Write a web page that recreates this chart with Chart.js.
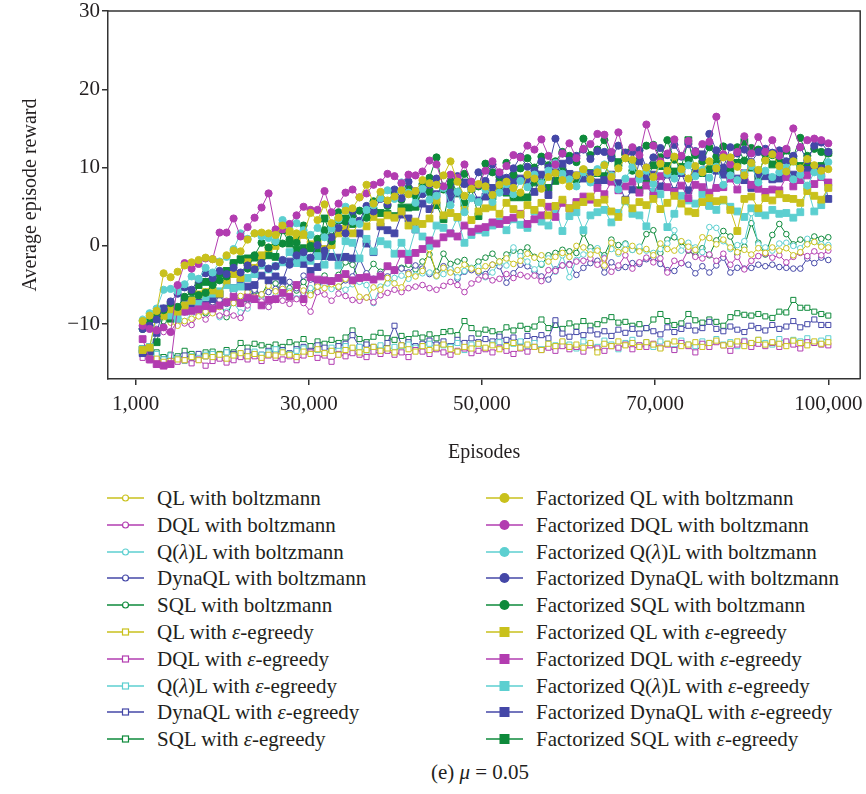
<!DOCTYPE html>
<html>
<head>
<meta charset="utf-8">
<title>Average episode reward</title>
<script src="https://cdn.jsdelivr.net/npm/chart.js@4.4.1/dist/chart.umd.min.js"></script>
<style>
  body { margin: 0; background: #fff; font-family: "Liberation Serif", "Times New Roman", serif; color: #231f20; }
  #wrap { position: relative; width: 866px; height: 794px; overflow: hidden; }
  #chartBox { position: absolute; left: 0; top: 0; width: 866px; height: 470px; }
  .leg-row { position: absolute; height: 26px; line-height: 26px; font-size: 21px; white-space: nowrap; }
  .leg-row svg { position: absolute; left: 0; top: 7px; }
  .leg-row span { position: absolute; top: 0; }
  #caption { position: absolute; top: 760px; left: 380px; width: 200px; text-align: center; font-size: 21px; }
</style>
</head>
<body>
<div id="wrap">
  <div id="chartBox"><canvas id="rewardChart" width="866" height="470"></canvas></div>
  <div id="legend"></div>
  <div id="caption">(e) <i>μ</i> = 0.05</div>
</div>
<script>
// axis ticks
const xTickPos = [0, 24.75, 49.5, 74.25, 99];
const xTickLabels = ['1,000', '30,000', '50,000', '70,000', '100,000'];
const yTicks = [-10, 0, 10, 20, 30];

const seriesNames = [
  'QL with boltzmann', 'DQL with boltzmann', 'Q(λ)L with boltzmann', 'DynaQL with boltzmann', 'SQL with boltzmann',
  'QL with ε-egreedy', 'DQL with ε-egreedy', 'Q(λ)L with ε-egreedy', 'DynaQL with ε-egreedy', 'SQL with ε-egreedy',
  'Factorized QL with boltzmann', 'Factorized DQL with boltzmann', 'Factorized Q(λ)L with boltzmann',
  'Factorized DynaQL with boltzmann', 'Factorized SQL with boltzmann',
  'Factorized QL with ε-egreedy', 'Factorized DQL with ε-egreedy', 'Factorized Q(λ)L with ε-egreedy',
  'Factorized DynaQL with ε-egreedy', 'Factorized SQL with ε-egreedy'
];

// --- plain methods, boltzmann (hollow circles) ---
const qlBoltz = [
  -9.8, -9.4, -8.6, -9.1, -9.8, -10.2, -9.6, -9.3, -9.0, -8.4,
  -8.6, -7.8, -7.0, -7.3, -6.4, -5.9, -6.6, -6.2, -5.1, -5.8,
  -5.5, -6.0, -4.9, -5.7, -6.3, -5.2, -5.4, -4.9, -5.2, -4.2,
  -4.5, -6.5, -6.6, -5.3, -5.6, -4.1, -4.8, -5.3, -3.6, -3.9,
  -3.2, -0.4, -3.8, -2.8, -3.4, -3.1, -2.4, -2.9, -3.2, -2.6,
  -2.4, -2.0, -1.6, -2.3, -1.9, -1.0, -1.5, -1.2, -2.0, -1.4,
  -0.9, -1.4, 0.0, -0.2, -1.1, -0.6, -2.5, 0.4, -0.8, -0.5,
  0.0, -0.7, -0.4, -1.2, 0.3, -0.4, -0.6, 0.6, -0.1, -0.5,
  1.1, 1.0, 0.2, 0.8, -0.2, -0.8, -0.5, -1.1, -0.3, -0.9,
  -0.2, -0.6, -0.3, -1.2, -0.8, 0.2, 0.5, -0.1, -0.2
];
const dqlBoltz = [
  -10.6, -10.4, -10.6, -11.0, -11.0, -9.5, -9.9, -10.1, -8.8, -9.4,
  -8.5, -8.9, -8.6, -8.9, -9.2, -7.6, -6.5, -7.1, -7.8, -6.9,
  -7.0, -7.4, -6.8, -7.3, -8.4, -5.9, -6.2, -7.0, -6.1, -6.4,
  -6.9, -7.0, -6.6, -7.2, -6.3, -6.0, -5.6, -5.9, -5.4, -5.2,
  -5.0, -5.4, -5.6, -5.1, -4.6, -5.0, -5.9, -4.8, -4.3, -3.9,
  -4.4, -4.2, -3.6, -4.1, -3.7, -3.9, -3.8, -4.5, -3.1, -3.2,
  -2.5, -2.4, -2.0, -1.9, -1.6, -2.4, -1.6, -3.3, -2.5, -1.2,
  -2.9, -2.1, -1.5, -2.1, -1.6, -3.4, -1.9, -2.2, -0.5, -1.4,
  -1.6, -1.1, -1.9, -1.0, -2.4, -1.4, -3.0, -1.9, -1.3, -1.0,
  -1.5, -1.2, -2.1, -1.4, -0.9, -1.3, -0.7, -1.2, -0.6
];
const qlamBoltz = [
  -9.3, -8.9, -8.2, -9.0, -8.4, -8.8, -9.6, -8.7, -8.0, -7.9,
  -8.3, -9.1, -8.4, -7.3, -8.5, -8.0, -6.6, -6.9, -7.8, -6.4,
  -6.2, -5.8, -6.7, -6.0, -5.4, -5.8, -4.9, -5.5, -5.2, -5.6,
  -4.9, -4.6, -5.0, -7.3, -5.2, -4.8, -4.1, -3.8, -4.2, -3.7,
  -3.5, -3.4, -3.9, -3.6, -3.0, -4.0, -3.2, -2.8, -2.7, -4.0,
  -3.4, -2.1, -2.5, -0.2, -1.3, -2.0, -3.0, -2.3, -1.6, -3.3,
  -1.2, -4.0, -1.8, -1.1, -0.7, -0.3, -1.5, -0.4, -1.0, 0.2,
  -0.5, -0.1, -0.6, -0.9, -0.4, 0.3, 2.0, -0.6, 0.4, -0.2,
  -0.8, 2.4, 2.3, 0.6, -0.4, 0.1, 0.6, 4.2, 0.2, -0.2,
  -0.6, 0.3, 0.4, 0.0, -0.3, 0.9, 0.5, 0.2, 0.1
];
const dynaBoltz = [
  -9.7, -9.2, -8.9, -8.2, -8.7, -8.0, -8.5, -7.6, -7.9, -7.5,
  -7.2, -6.9, -7.4, -6.0, -6.6, -6.8, -5.6, -6.2, -5.9, -5.5,
  -5.2, -4.6, -5.4, -3.8, -4.3, -4.9, -4.5, -4.8, -5.3, -4.4,
  -3.9, -1.6, -3.5, -4.2, -3.6, -3.9, -3.2, -2.9, -3.4, -2.5,
  -2.9, -3.6, -3.8, -2.6, -3.0, -4.2, -3.3, -3.1, -3.4, -3.6,
  -2.4, -2.6, -4.7, -3.5, -2.4, -2.6, -3.2, -3.9, -4.3, -3.0,
  -2.5, -2.3, -3.7, -2.8, -2.2, -1.9, -3.4, -2.1, -2.8, -2.7,
  -2.2, -2.3, -1.7, -1.5, -2.3, -3.1, -3.2, -2.2, -2.4, -3.5,
  -2.6, -3.4, -2.5, -1.5, -3.4, -2.8, -2.9, -2.8, -2.4, -2.6,
  -2.4, -2.7, -2.8, -2.9, -2.9, -1.6, -2.2, -1.5, -1.8
];
const sqlBoltz = [
  -9.5, -9.8, -9.0, -9.6, -8.7, -9.1, -8.2, -8.5, -7.9, -8.6,
  -7.6, -7.1, -9.1, -6.8, -7.4, -6.9, -5.8, -6.3, -4.6, -4.8,
  -5.9, -5.4, -5.7, -4.6, -6.0, -4.9, -3.8, -4.4, -3.7, -2.1,
  -2.4, -4.5, -3.6, -2.3, -3.3, -2.6, -3.0, -2.8, -2.4, -3.0,
  -2.0, -1.1, -3.3, -1.0, -2.3, -2.0, -1.8, -2.9, -2.0, -1.5,
  -1.0, -2.0, -1.1, -0.6, -0.8, -0.2, -1.4, -2.4, -1.2, -0.9,
  -0.5, -0.7, -0.9, 1.6, -0.2, -0.4, -1.2, 0.8, 0.1, 0.3,
  -0.5, -0.5, 1.5, 2.0, -0.9, 0.8, 1.1, 0.5, -0.6, -1.2,
  -0.3, -1.2, 0.7, 1.9, 1.2, -1.0, -0.1, 2.9, 0.4, -1.1,
  1.4, 2.8, 1.5, 0.2, 0.8, 0.7, 1.2, 0.9, 1.1
];

// --- plain methods, ε-greedy (hollow squares) ---
const qlGreedy = [
  -13.6, -14.3, -14.4, -14.8, -14.7, -14.5, -14.6, -14.2, -14.6, -14.1,
  -14.2, -13.9, -14.4, -14.0, -13.7, -14.1, -13.8, -14.3, -13.9, -14.0,
  -13.6, -13.9, -14.2, -13.5, -13.8, -13.2, -13.7, -13.4, -13.9, -13.3,
  -13.0, -13.6, -13.3, -12.9, -13.4, -13.1, -13.6, -12.7, -13.2, -13.5,
  -12.8, -13.3, -13.0, -12.6, -13.2, -13.5, -12.9, -13.1, -12.5, -13.0,
  -12.7, -13.2, -12.8, -12.4, -13.0, -12.6, -12.9, -13.3, -12.5, -12.8,
  -12.2, -12.9, -12.6, -13.0, -12.4, -13.6, -12.5, -12.8, -12.2, -12.7,
  -12.4, -12.9, -12.3, -12.6, -13.1, -12.5, -12.2, -12.8, -12.6, -12.3,
  -12.9, -12.4, -12.1, -12.7, -12.5, -12.2, -12.8, -12.4, -12.0, -12.6,
  -12.3, -12.5, -12.8, -12.1, -12.4, -12.7, -12.2, -12.5, -12.3
];
const dqlGreedy = [
  -14.3, -14.6, -14.5, -14.9, -15.1, -14.8, -14.6, -15.0, -14.5, -15.3,
  -14.7, -14.4, -14.9, -14.6, -14.2, -14.5, -14.1, -14.7, -14.0, -14.3,
  -14.5, -14.1, -14.6, -14.0, -13.6, -14.3, -14.0, -14.8, -13.8, -14.1,
  -13.7, -13.9, -14.2, -13.5, -13.8, -13.4, -13.9, -13.6, -14.2, -13.3,
  -13.5, -13.8, -13.2, -13.6, -13.9, -13.4, -13.1, -13.7, -13.4, -13.2,
  -13.6, -13.0, -13.4, -13.8, -13.1, -13.5, -12.9, -13.3, -13.0, -13.4,
  -12.8, -13.2, -12.9, -13.5, -12.7, -13.1, -13.4, -12.8, -13.0, -12.6,
  -13.2, -12.7, -12.9, -12.5, -13.0, -12.6, -13.3, -12.4, -12.8, -13.6,
  -12.5, -12.9, -12.3, -12.7, -13.4, -12.6, -12.2, -12.9, -12.5, -12.8,
  -12.4, -12.9, -12.2, -12.6, -13.1, -12.3, -12.4, -12.6, -12.7
];
const qlamGreedy = [
  -13.9, -14.2, -13.8, -14.5, -14.0, -14.4, -14.7, -14.1, -14.3, -13.9,
  -13.8, -14.2, -13.6, -14.0, -13.7, -14.3, -13.5, -13.9, -13.6, -13.2,
  -13.5, -13.8, -13.4, -13.1, -13.6, -13.3, -13.9, -13.0, -13.4, -12.8,
  -13.2, -12.9, -13.5, -13.1, -12.7, -13.3, -12.9, -13.4, -12.6, -13.0,
  -12.8, -12.5, -13.1, -12.7, -12.9, -12.4, -13.3, -12.6, -12.8, -13.1,
  -12.6, -12.3, -12.9, -12.5, -12.2, -12.8, -12.4, -13.2, -12.5, -12.7,
  -12.3, -12.6, -13.1, -12.2, -12.5, -12.9, -12.1, -12.6, -13.2, -12.4,
  -12.0, -12.7, -12.3, -12.9, -12.2, -12.5, -13.2, -12.1, -12.6, -12.8,
  -12.2, -12.4, -11.9, -12.6, -12.3, -12.8, -12.1, -12.5, -12.0, -12.4,
  -12.6, -11.9, -12.3, -12.0, -12.2, -11.8, -12.4, -12.1, -11.8
];
const dynaGreedy = [
  -13.8, -14.3, -14.1, -14.5, -14.2, -14.4, -14.0, -14.3, -13.8, -14.1,
  -13.9, -14.2, -13.6, -13.8, -14.0, -13.5, -13.7, -13.9, -13.4, -13.6,
  -13.3, -13.7, -13.2, -12.9, -13.4, -12.7, -13.0, -13.3, -12.8, -12.5,
  -11.4, -12.9, -12.6, -12.9, -13.1, -12.4, -10.2, -12.7, -12.3, -12.8,
  -12.5, -12.1, -12.6, -12.2, -12.8, -12.0, -12.4, -11.8, -12.3, -11.9,
  -12.2, -11.6, -12.0, -11.7, -12.3, -11.5, -11.9, -11.4, -11.8, -9.5,
  -11.2, -11.6, -11.0, -11.4, -10.8, -11.3, -10.9, -11.5, -10.7, -11.1,
  -10.6, -11.2, -10.5, -10.9, -11.3, -10.4, -11.0, -10.6, -10.2, -10.8,
  -10.5, -9.7, -10.6, -10.9, -10.3, -10.7, -11.0, -10.2, -10.5, -10.8,
  -10.1, -10.6, -10.3, -9.6, -10.4, -10.0, -9.4, -10.1, -10.1
];
const sqlGreedy = [
  -13.7, -14.0, -13.6, -14.2, -13.9, -14.1, -13.4, -13.8, -14.0, -13.6,
  -13.5, -13.8, -13.3, -13.6, -12.4, -13.0, -12.5, -12.7, -12.9, -12.6,
  -12.9, -12.3, -12.6, -11.9, -12.8, -12.2, -12.5, -12.0, -12.4, -11.7,
  -10.8, -11.9, -12.3, -11.6, -11.1, -11.8, -12.0, -11.5, -11.9, -11.2,
  -11.7, -11.3, -11.8, -11.0, -10.9, -11.4, -9.6, -10.5, -11.2, -10.7,
  -10.9, -11.3, -10.4, -10.8, -10.2, -10.6, -10.3, -9.4, -10.5, -10.1,
  -10.6, -9.9, -10.3, -9.6, -10.2, -10.0, -9.5, -9.1, -9.8, -9.7,
  -10.2, -10.0, -10.5, -9.4, -8.7, -9.6, -10.1, -9.9, -8.7, -9.5,
  -9.8, -9.4, -9.7, -10.2, -9.1, -8.6, -8.8, -8.9, -8.7, -9.0,
  -9.2, -8.4, -8.5, -6.9, -7.9, -7.9, -8.4, -8.7, -8.9
];

// --- factorized, boltzmann (filled circles) ---
const fQlBoltz = [
  -9.6, -8.9, -8.3, -3.5, -4.0, -3.3, -2.5, -2.1, -1.8, -1.5,
  -1.7, -2.1, -1.2, -0.6, -0.7, 0.8, 1.6, 1.7, 1.6, 1.4,
  2.6, 1.9, 1.6, 1.5, 4.2, 3.3, 5.3, 2.9, 3.6, 4.5,
  4.8, 6.2, 7.8, 5.4, 6.9, 5.8, 6.3, 7.1, 6.6, 7.0,
  8.4, 8.0, 7.8, 9.0, 10.8, 8.2, 6.4, 7.3, 7.9, 7.6,
  6.5, 7.8, 8.2, 7.4, 6.8, 9.1, 8.6, 7.3, 8.8, 9.3,
  8.4, 7.6, 9.0, 9.8, 8.5, 9.4, 10.3, 8.8, 9.9, 11.2,
  11.0, 9.2, 10.0, 8.8, 10.5, 9.6, 11.4, 9.8, 8.6, 10.2,
  9.4, 10.8, 9.9, 11.3, 11.3, 10.1, 9.0, 10.6, 9.7, 10.9,
  11.7, 10.2, 9.5, 10.8, 9.9, 11.1, 10.3, 9.6, 9.8
];
const fDqlBoltz = [
  -10.2, -10.6, -10.8, -10.4, -11.0, -5.0, -2.2, -2.9, -2.3, -1.6,
  -1.7, 1.7, 1.7, 3.5, 1.2, 2.4, 3.6, 4.9, 6.7, 2.1,
  2.1, 2.8, 3.9, 5.0, 4.6, 4.6, 7.0, 4.3, 5.4, 6.8,
  7.2, 6.2, 6.7, 7.8, 8.1, 9.2, 8.9, 8.0, 9.1, 9.0,
  9.5, 10.9, 10.4, 7.6, 9.1, 8.7, 10.4, 8.2, 7.8, 9.6,
  10.8, 9.4, 10.2, 11.6, 11.3, 12.8, 12.3, 13.6, 11.5, 10.4,
  11.8, 13.1, 11.2, 12.4, 13.0, 14.3, 14.2, 12.0, 14.5, 11.2,
  12.6, 11.6, 15.5, 12.8, 10.8, 11.8, 13.6, 11.5, 13.4, 12.0,
  13.0, 13.3, 16.5, 11.7, 10.4, 12.0, 14.0, 11.8, 13.9, 12.0,
  13.5, 11.5, 12.4, 15.0, 12.6, 13.5, 13.7, 13.5, 13.1
];
const fQlamBoltz = [
  -9.5, -8.6, -8.0, -5.6, -5.5, -5.8, -4.9, -3.9, -4.2, -2.8,
  -3.4, -2.0, -1.4, -0.4, 1.6, 0.9, 1.6, 1.2, 1.0, 0.6,
  3.3, 2.6, 2.9, 2.0, 1.4, 2.3, 1.1, 2.2, 3.4, 5.0,
  3.1, 2.8, 4.6, 5.2, 6.1, 7.1, 6.0, 8.1, 6.8, 5.5,
  7.3, 5.9, 6.4, 7.4, 5.2, 6.9, 4.3, 6.1, 5.6, 7.2,
  5.6, 6.8, 7.9, 6.6, 8.3, 7.5, 9.1, 8.0, 9.6, 10.6,
  9.2, 8.5, 7.6, 9.4, 8.1, 9.8, 10.4, 9.0, 7.2, 8.6,
  10.1, 8.5, 9.6, 7.9, 10.6, 9.2, 8.6, 9.5, 10.3, 8.9,
  9.7, 8.7, 10.1, 7.8, 9.0, 8.4, 9.3, 10.2, 8.1, 9.6,
  8.8, 9.4, 10.0, 8.5, 9.1, 7.7, 9.4, 8.9, 10.7
];
const fDynaBoltz = [
  -10.6, -10.2, -9.4, -8.0, -7.1, -6.1, -5.3, -5.6, -4.3, -3.5,
  -4.1, -3.2, -3.6, -2.8, -3.4, -2.5, -3.0, -2.2, -2.9, -2.6,
  -1.8, -2.4, -1.2, -0.8, -1.5, 0.1, -0.6, 1.1, 2.3, 1.6,
  4.5, 3.2, 5.1, 4.4, 6.0, 5.3, 7.2, 6.1, 8.2, 7.0,
  6.6, 7.8, 8.6, 7.5, 6.8, 8.9, 7.9, 7.6, 9.4, 8.3,
  10.4, 9.1, 8.7, 9.9, 11.4, 10.1, 9.6, 10.8, 10.0, 13.7,
  11.8, 10.9, 11.5, 12.3, 11.1, 12.1, 12.0, 11.2, 12.8, 11.9,
  12.0, 12.2, 10.0, 11.3, 12.5, 11.6, 12.9, 11.4, 13.0, 12.1,
  11.3, 14.3, 12.2, 10.0, 12.6, 11.8, 12.3, 10.7, 12.0, 12.4,
  11.9, 12.2, 10.8, 11.5, 12.6, 10.9, 12.8, 13.2, 12.0
];
const fSqlBoltz = [
  -10.6, -9.6, -9.0, -8.2, -7.3, -7.8, -6.5, -5.9, -6.3, -6.0,
  -5.0, -4.4, -3.9, -2.2, -1.8, -2.9, -1.2, 0.4, -0.2, 0.5,
  0.3, 0.8, 0.4, 2.6, 0.0, 0.9, 2.0, 0.6, 4.3, 3.1,
  3.9, 4.5, 3.6, 5.7, 6.2, 5.1, 6.8, 5.9, 7.4, 6.3,
  7.9, 8.7, 11.3, 7.2, 8.3, 6.9, 9.2, 8.1, 7.6, 10.5,
  9.4, 8.8, 10.6, 9.1, 9.9, 11.2, 10.0, 11.4, 10.3, 10.8,
  12.0, 11.5, 10.7, 13.7, 11.6, 12.3, 13.5, 11.4, 10.2, 11.7,
  9.6, 12.2, 12.8, 12.9, 11.3, 13.5, 11.0, 9.8, 11.0, 11.6,
  10.8, 12.6, 11.4, 12.7, 10.6, 12.6, 10.9, 12.5, 12.3, 11.0,
  11.6, 10.8, 12.2, 11.4, 13.8, 11.5, 12.4, 12.0, 11.8
];

// --- factorized, ε-greedy (filled squares) ---
const fQlGreedy = [
  -13.3, -13.0, -8.6, -8.9, -8.1, -8.4, -7.6, -7.0, -6.2, -5.9,
  -5.7, -6.1, -4.4, -3.6, -4.1, -2.1, -2.8, -1.2, -0.3, 0.0,
  2.6, 1.8, 0.9, 1.4, 0.2, 0.6, -0.4, 0.1, 1.6, 2.2,
  1.6, 3.1, 2.5, 3.7, 3.0, 3.9, 3.6, 4.4, 2.6, 3.1,
  2.8, 3.5, 5.8, 3.9, 4.2, 3.7, 4.6, 3.3, 4.4, 4.8,
  5.0, 4.1, 5.5, 4.7, 4.0, 5.2, 4.6, 5.5, 3.9, 5.1,
  5.9, 4.8, 5.2, 5.6, 6.3, 5.5, 5.9, 4.4, 3.7, 5.8,
  4.8, 5.6, 5.2, 6.0, 4.7, 5.5, 6.4, 5.4, 4.4, 4.2,
  5.6, 6.1, 5.7, 5.9, 4.6, 1.9, 6.0, 6.3, 4.8, 6.1,
  5.8, 6.6, 6.1, 6.0, 5.5, 7.0, 6.4, 5.9, 7.4
];
const fDqlGreedy = [
  -11.9, -14.5, -15.1, -15.3, -15.1, -7.9, -8.4, -8.3, -8.1, -7.7,
  -8.0, -7.6, -7.2, -6.5, -7.3, -6.6, -6.8, -7.6, -6.9, -6.8,
  -6.0, -6.5, -5.0, -6.8, -4.0, -4.3, -4.4, -4.5, -4.1, -3.6,
  -4.4, -4.1, -4.0, -4.3, -3.9, -2.6, -3.1, -1.0, -1.8, -0.9,
  -0.4, 0.7, 0.3, 1.1, 1.6, 1.2, 2.6, 1.8, 2.2, 2.4,
  3.0, 2.8, 3.3, 3.6, 4.1, 2.8, 3.4, 3.9, 5.0, 3.7,
  5.5, 4.8, 5.6, 6.3, 5.9, 7.4, 6.6, 8.2, 7.1, 7.6,
  8.2, 6.8, 7.7, 6.4, 8.9, 7.5, 6.9, 7.7, 6.1, 7.8,
  7.5, 6.8, 7.4, 7.5, 8.6, 7.2, 9.3, 7.8, 7.3, 6.9,
  7.2, 7.1, 8.8, 7.6, 8.4, 9.0, 7.9, 8.8, 8.1
];
const fQlamGreedy = [
  -13.2, -12.9, -9.2, -8.7, -8.9, -9.3, -7.6, -7.0, -7.4, -6.5,
  -6.1, -5.8, -5.0, -5.4, -5.2, -4.1, -3.6, -2.5, -3.0, -2.6,
  -2.1, -0.8, -2.2, -1.5, -1.9, -1.3, -2.4, 0.2, -2.5, 0.6,
  0.4, -1.6, 0.9, -0.7, 0.6, 0.2, -1.0, 0.4, -1.0, 2.1,
  1.2, 0.0, 2.6, 2.3, 1.6, 3.6, 0.4, 1.4, 2.0, 1.7,
  2.6, 3.1, 2.0, 3.4, 2.7, 2.3, 4.4, 3.1, 2.6, 4.7,
  1.9, 3.8, 4.3, 2.0, 3.9, 4.3, 4.6, 3.0, 4.2, 5.7,
  4.1, 3.9, 2.5, 6.9, 6.6, 2.4, 4.1, 6.4, 5.8, 5.4,
  6.6, 5.1, 4.6, 5.8, 5.0, 4.4, 3.7, 4.8, 4.2, 3.9,
  4.6, 4.1, 4.2, 3.6, 4.3, 7.5, 4.4, 5.2, 7.5
];
const fDynaGreedy = [
  -13.7, -13.5, -11.1, -8.0, -8.2, -7.9, -6.9, -7.6, -7.2, -7.5,
  -6.8, -6.2, -4.4, -5.4, -4.6, -5.2, -5.0, -3.8, -4.4, -3.9,
  -4.4, -2.0, -2.0, -2.3, -3.2, -2.7, -1.3, -1.4, -1.5, -1.4,
  -1.6, 1.6, 0.3, -0.8, 2.5, 2.0, 1.6, 4.0, 3.5, 2.1,
  5.4, 4.7, 6.6, 7.4, 5.9, 6.8, 8.1, 7.6, 5.8, 6.3,
  7.4, 8.1, 7.0, 8.3, 8.6, 8.4, 6.9, 9.1, 6.5, 9.4,
  10.5, 9.2, 9.0, 8.6, 9.2, 8.1, 8.4, 9.1, 8.0, 5.9,
  7.2, 10.8, 8.9, 9.1, 7.6, 9.1, 7.0, 9.3, 7.1, 9.4,
  11.7, 5.2, 9.6, 9.1, 8.9, 8.6, 8.4, 7.4, 9.2, 8.9,
  8.5, 8.6, 9.5, 9.1, 8.8, 9.7, 9.8, 9.9, 6.0
];
const fSqlGreedy = [
  -13.2, -13.3, -12.3, -8.7, -9.3, -8.0, -7.1, -6.9, -5.0, -4.6,
  -4.6, -3.5, -3.2, -2.2, -1.7, -1.6, -1.5, -1.4, -1.2, -1.4,
  2.0, 0.3, -0.5, -0.3, -0.3, -0.7, 3.5, 1.1, 3.3, 3.5,
  2.8, 3.1, 3.7, 4.5, 4.2, 4.1, 3.8, 4.9, 4.9, 5.0,
  7.0, 6.9, 5.2, 3.4, 7.5, 6.7, 5.4, 7.3, 3.8, 7.7,
  6.3, 7.0, 6.8, 6.2, 6.2, 6.2, 8.1, 8.1, 7.4, 8.3,
  9.6, 8.6, 8.5, 9.6, 9.3, 9.3, 8.9, 11.8, 10.7, 11.9,
  12.3, 7.1, 8.4, 10.3, 10.2, 10.2, 9.5, 10.1, 13.5, 9.4,
  9.3, 9.8, 10.5, 9.5, 9.6, 10.6, 13.3, 10.0, 8.8, 11.9,
  10.4, 10.6, 12.2, 10.8, 10.2, 10.2, 9.6, 10.2, 11.9
];

const seriesValues = [
  qlBoltz, dqlBoltz, qlamBoltz, dynaBoltz, sqlBoltz,
  qlGreedy, dqlGreedy, qlamGreedy, dynaGreedy, sqlGreedy,
  fQlBoltz, fDqlBoltz, fQlamBoltz, fDynaBoltz, fSqlBoltz,
  fQlGreedy, fDqlGreedy, fQlamGreedy, fDynaGreedy, fSqlGreedy
];

// styling
const palette = ['#c9c11c', '#b23cb0', '#5ccfd0', '#4447a7', '#0e8a3b'];
const textColor = '#231f20';
const axisColor = '#333333';
const tickFont = { family: '"Liberation Serif", serif', size: 21 };
const titleFont = { family: '"Liberation Serif", serif', size: 20 };

function styleFor(i) {
  const color = palette[i % 5];
  const factorized = i >= 10;
  const square = Math.floor(i / 5) % 2 === 1;
  return {
    color: color,
    filled: factorized,
    shape: square ? 'rect' : 'circle',
    radius: factorized ? (square ? 4.8 : 3.6) : (square ? 3.6 : 2.8)
  };
}

const datasets = seriesValues.map((vals, i) => {
  const s = styleFor(i);
  return {
    label: seriesNames[i],
    data: vals.map((v, k) => ({ x: k + 1, y: v })),
    borderColor: s.color,
    borderWidth: 1,
    pointStyle: s.shape,
    pointRadius: s.radius,
    pointBorderWidth: 1,
    pointBorderColor: s.color,
    pointBackgroundColor: s.filled ? s.color : '#ffffff',
    tension: 0,
    order: s.filled ? 0 : 1
  };
});

// top and right edges of the plot box
const framePlugin = {
  id: 'frame',
  afterDraw(chart) {
    const { ctx, chartArea: a } = chart;
    ctx.save();
    ctx.strokeStyle = axisColor;
    ctx.lineWidth = 1.5;
    ctx.beginPath();
    ctx.moveTo(a.left, a.top);
    ctx.lineTo(a.right, a.top);
    ctx.lineTo(a.right, a.bottom);
    ctx.stroke();
    ctx.restore();
  }
};

new Chart(document.getElementById('rewardChart'), {
  type: 'line',
  data: { datasets: datasets },
  plugins: [framePlugin],
  options: {
    responsive: false,
    animation: false,
    layout: { padding: { top: 11, right: 4, left: 0, bottom: 0 } },
    plugins: { legend: { display: false }, tooltip: { enabled: false } },
    scales: {
      x: {
        type: 'linear',
        min: -3.95,
        max: 103.56,
        afterBuildTicks: s => { s.ticks = xTickPos.map(v => ({ value: v })); },
        afterFit: s => { s.height = 91; s.paddingLeft = 0; s.paddingRight = 0; },
        ticks: {
          autoSkip: false,
          maxRotation: 0,
          padding: 7,
          color: textColor,
          font: tickFont,
          callback: (v, i) => xTickLabels[i]
        },
        grid: { drawOnChartArea: false, drawTicks: true, tickLength: 6, color: axisColor, lineWidth: 1.5 },
        border: { color: axisColor, width: 1.5 },
        title: { display: true, text: 'Episodes', color: textColor, font: titleFont, padding: { top: 0, bottom: 5 } }
      },
      y: {
        min: -17,
        max: 30,
        afterBuildTicks: s => { s.ticks = yTicks.map(v => ({ value: v })); },
        afterFit: s => { s.width = 108; s.paddingTop = 0; s.paddingBottom = 0; },
        ticks: {
          padding: 2,
          color: textColor,
          font: tickFont,
          callback: v => (v < 0 ? '\u2212' + Math.abs(v) : String(v))
        },
        grid: { drawOnChartArea: false, drawTicks: true, tickLength: 6, color: axisColor, lineWidth: 1.5 },
        border: { color: axisColor, width: 1.5 },
        title: { display: true, text: 'Average episode reward', color: textColor, font: titleFont, padding: { top: 19, bottom: 0 } }
      }
    }
  }
});

// legend in two columns below the chart
function markerSvg(s) {
  const w = 37, h = 12, cx = 18.5, cy = 6;
  let mark;
  if (s.filled) {
    mark = s.shape === 'circle'
      ? `<circle cx="${cx}" cy="${cy}" r="5" fill="${s.color}"/>`
      : `<rect x="${cx - 5}" y="${cy - 5}" width="10" height="10" fill="${s.color}"/>`;
  } else {
    mark = s.shape === 'circle'
      ? `<circle cx="${cx}" cy="${cy}" r="3" fill="#fff" stroke="${s.color}" stroke-width="1.2"/>`
      : `<rect x="${cx - 3}" y="${cy - 3}" width="6" height="6" fill="#fff" stroke="${s.color}" stroke-width="1.2"/>`;
  }
  return `<svg width="${w}" height="${h}"><line x1="0" y1="${cy}" x2="${w}" y2="${cy}" stroke="${s.color}" stroke-width="1.5"/>${mark}</svg>`;
}

const legendBox = document.getElementById('legend');
seriesNames.forEach((name, i) => {
  const s = styleFor(i);
  const col = i < 10 ? 0 : 1;
  const row = i % 10;
  const div = document.createElement('div');
  div.className = 'leg-row';
  div.style.left = (col === 0 ? 107 : 486) + 'px';
  div.style.top = (485 + row * 26.8) + 'px';
  const html = name.replace(/([λε])/g, '<i>$1</i>');
  div.innerHTML = markerSvg(s) + `<span style="left:50px">${html}</span>`;
  legendBox.appendChild(div);
});
</script>
</body>
</html>
